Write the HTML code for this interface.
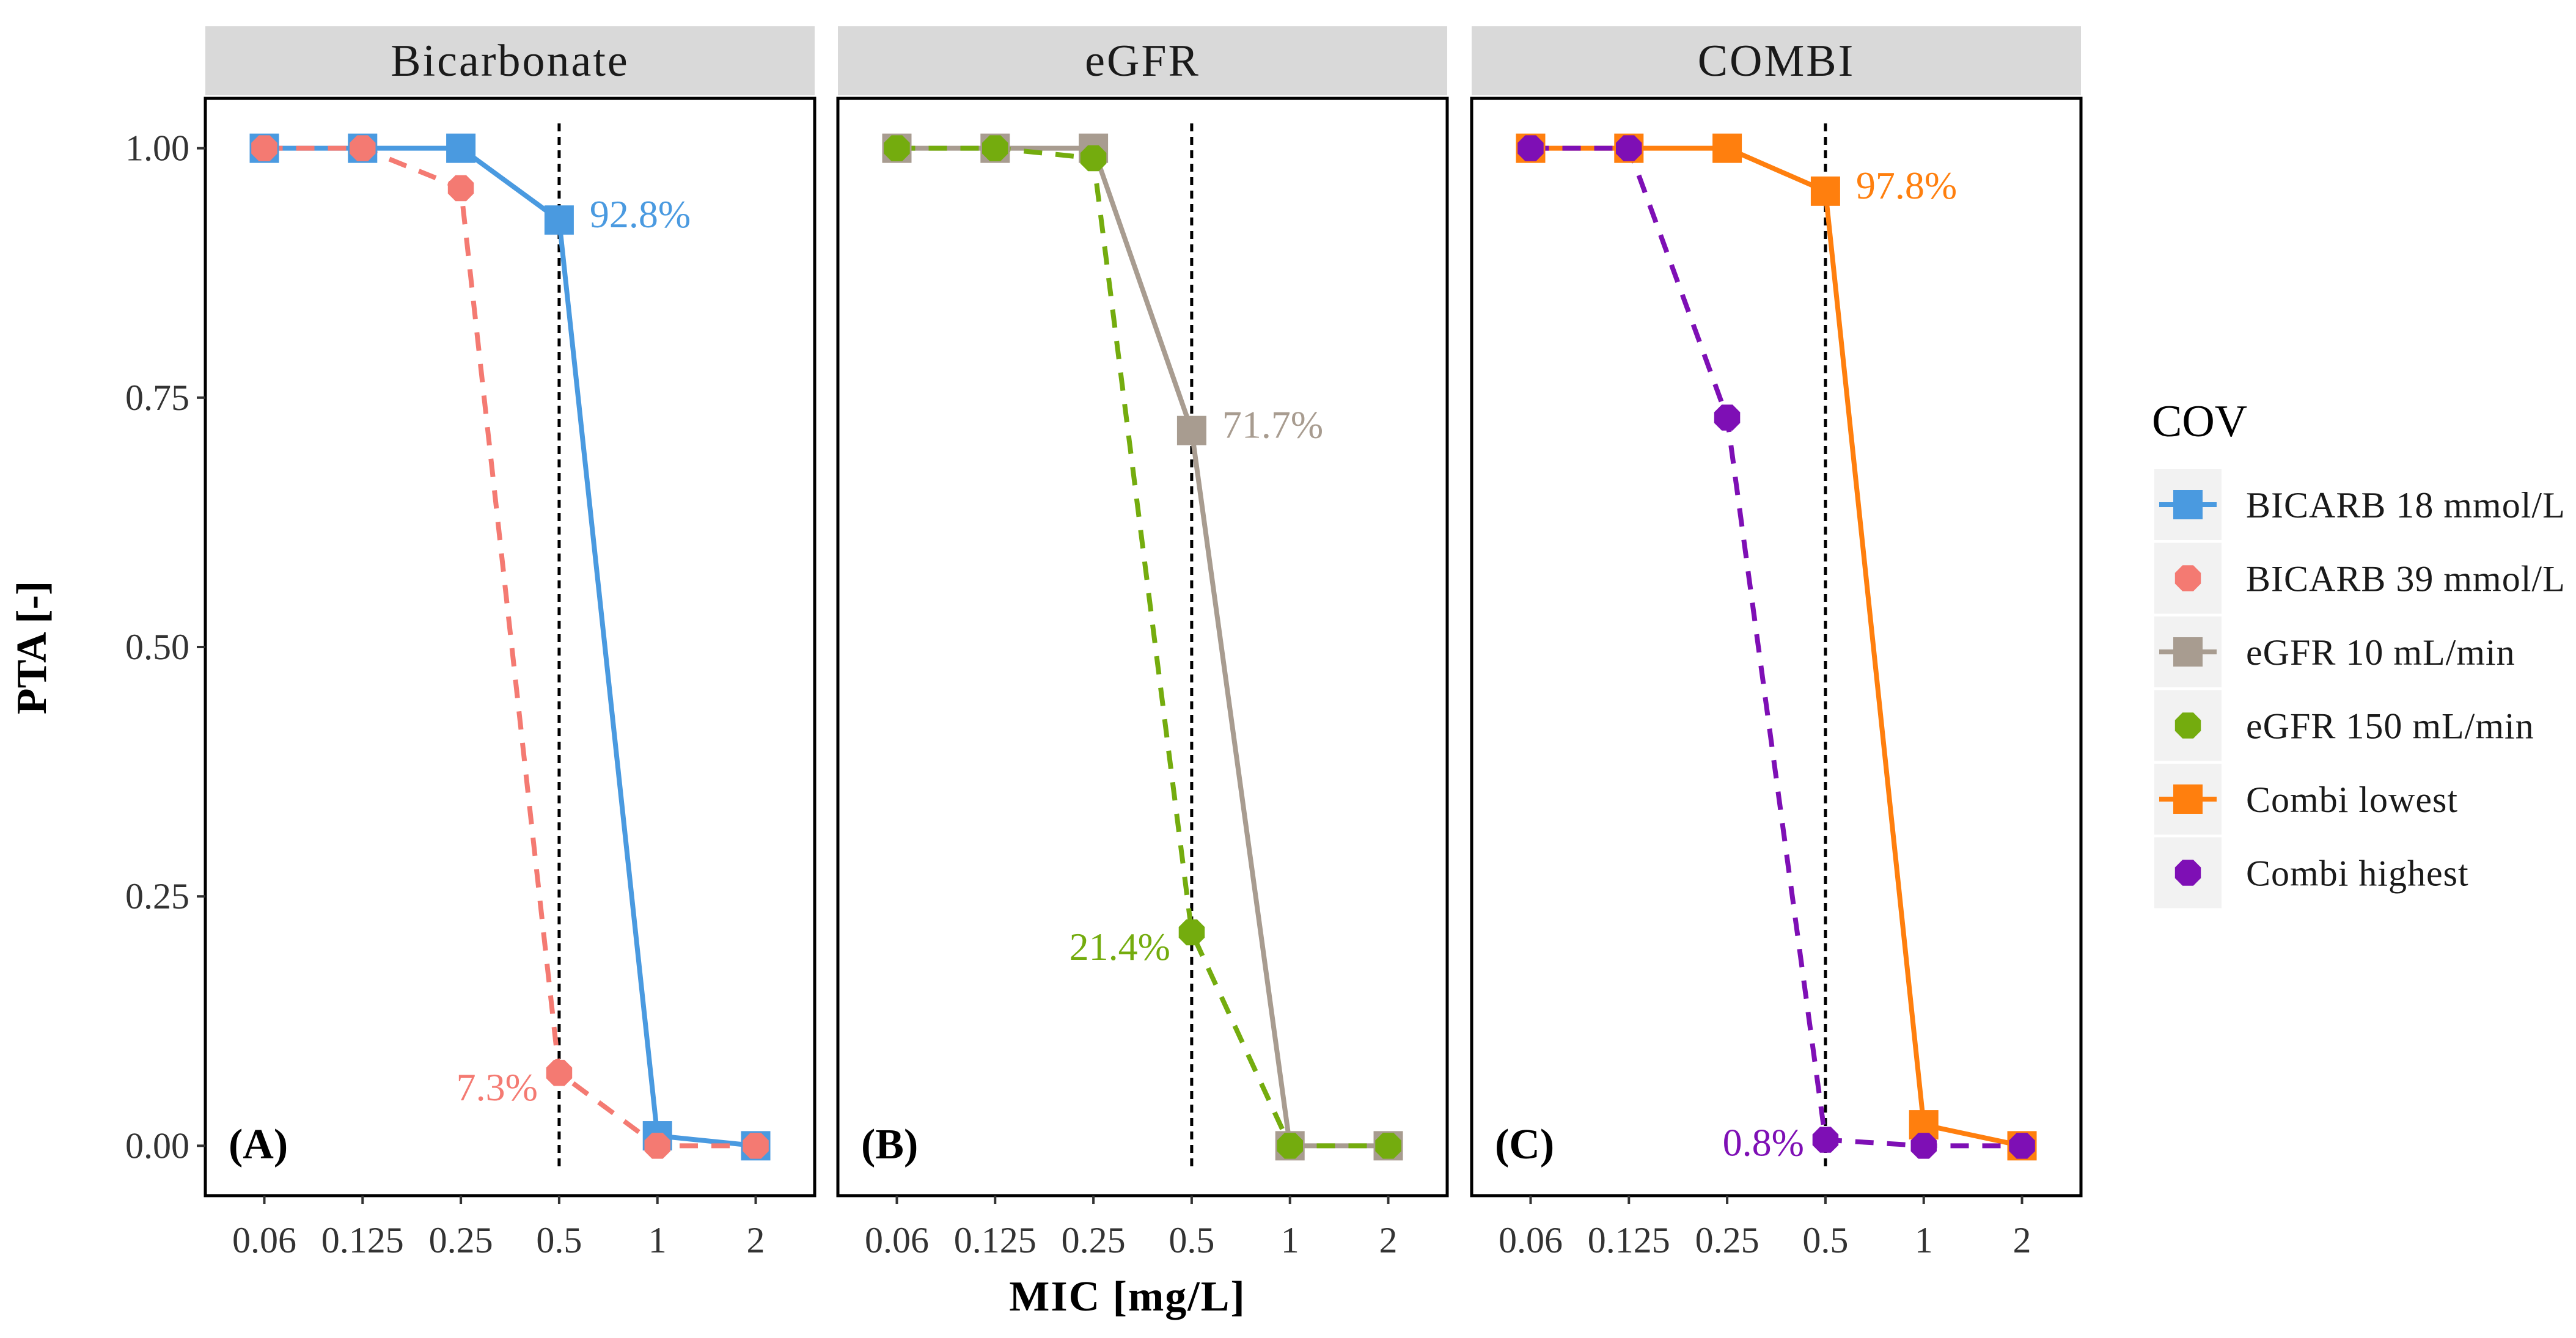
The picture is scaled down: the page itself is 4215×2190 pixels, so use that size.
<!DOCTYPE html>
<html><head><meta charset="utf-8"><style>
html,body{margin:0;padding:0;background:#fff}
svg{display:block;font-family:"Liberation Serif",serif}
</style></head><body>
<svg id="chart" width="4215" height="2190" viewBox="0 0 4215 2190" xmlns="http://www.w3.org/2000/svg">
<text x="75" y="1060" font-size="70" font-weight="bold" text-anchor="middle" transform="rotate(-90 75 1060)">PTA [-]</text>
<text x="1845" y="2145" font-size="70" font-weight="bold" text-anchor="middle" letter-spacing="2">MIC [mg/L]</text>
<g id="panels"></g>
<g id="legend"></g>
</svg>
<script>
const categories = ["0.06","0.125","0.25","0.5","1","2"];
const yTicks = [0, 0.25, 0.5, 0.75, 1];
const yTickLabels = ["0.00","0.25","0.50","0.75","1.00"];
const panelTitles = ["Bicarbonate","eGFR","COMBI"];
const panelTags = ["(A)","(B)","(C)"];
const bicarb18 = [1,1,1,0.928,0.01,0];
const bicarb39 = [1,1,0.96,0.073,0,0];
const egfr10 = [1,1,1,0.717,0,0];
const egfr150 = [1,1,0.99,0.214,0,0];
const combiLow = [1,1,1,0.957,0.021,0];
const combiHigh = [1,1,0.73,0.006,0,0];
const seriesNames = ["BICARB 18 mmol/L","BICARB 39 mmol/L","eGFR 10 mL/min","eGFR 150 mL/min","Combi lowest","Combi highest"];
const annotations = [["92.8%","7.3%"],["71.7%","21.4%"],["97.8%","0.8%"]];

const NS="http://www.w3.org/2000/svg";
function mk(tag,attrs,parent,text){const e=document.createElementNS(NS,tag);for(const k in attrs)e.setAttribute(k,attrs[k]);if(text!==undefined)e.textContent=text;parent.appendChild(e);return e;}
const svgEl=document.getElementById('chart');
const panelsG=document.getElementById('panels');
const panelX=[336,1371,2408], panelW=997, plotTop=161, plotBottom=1957;
function yS(v){return plotBottom-((v+0.05)/1.1)*(plotBottom-plotTop);}
function xS(p,i){return panelX[p]+(i+1-0.4)/6.2*panelW;}
const colors={b18:"#4a9ae0",b39:"#f47a72",e10:"#a89c90",e150:"#74ac0e",cl:"#ff7f0e",ch:"#7e0fb5"};
const panelSeries=[
 [{d:bicarb18,c:colors.b18,sq:true,dash:null,name:"bicarb-18"},{d:bicarb39,c:colors.b39,sq:false,dash:"30 22",name:"bicarb-39"}],
 [{d:egfr10,c:colors.e10,sq:true,dash:null,name:"egfr-10"},{d:egfr150,c:colors.e150,sq:false,dash:"30 22",name:"egfr-150"}],
 [{d:combiLow,c:colors.cl,sq:true,dash:null,name:"combi-lowest"},{d:combiHigh,c:colors.ch,sq:false,dash:"30 22",name:"combi-highest"}]
];
function marker(g,x,y,c,sq,sz){
  if(sq){const r=mk('rect',{x:x-sz/2,y:y-sz/2,width:sz,height:sz,fill:c},g);
    
    }
  else{const r=sz*0.5;const pts=[];for(let k=0;k<8;k++){const a=Math.PI/8+k*Math.PI/4;pts.push((x+r*Math.cos(a)).toFixed(1)+","+(y+r*Math.sin(a)).toFixed(1));}
    const p=mk('polygon',{points:pts.join(' '),fill:c},g);
    
    }
}
for(let p=0;p<3;p++){
  const g=mk('g',{},panelsG);
  
  
  const strip=mk('rect',{x:panelX[p],y:43,width:panelW,height:113,fill:"#d9d9d9"},g);
  
  
  const st=mk('text',{x:panelX[p]+panelW/2,y:124,'font-size':74,'letter-spacing':3,'text-anchor':'middle',fill:'#1a1a1a'},g,panelTitles[p]);
  
  
  const vx=xS(p,3);
  const vl=mk('line',{x1:vx,x2:vx,y1:202,y2:1914,stroke:'#000','stroke-width':5,'stroke-dasharray':'13 9'},g);
  
  
  panelSeries[p].forEach(s=>{
    const pts=s.d.map((v,i)=>xS(p,i).toFixed(1)+","+yS(v).toFixed(1)).join(' ');
    const pl=mk('polyline',{points:pts,fill:'none',stroke:s.c,'stroke-width':8,'stroke-linejoin':'round'},g);
    if(s.dash)pl.setAttribute('stroke-dasharray',s.dash);
    
    
  });
  panelSeries[p].forEach(s=>{s.d.forEach((v,i)=>marker(g,xS(p,i),yS(v),s.c,s.sq,s.sq?48:46));});
  const a1=panelSeries[p][0], a2=panelSeries[p][1];
  const t1=mk('text',{x:xS(p,3)+50,y:yS(a1.d[3])+12,'font-size':64,fill:a1.c},g,annotations[p][0]);
  
  
  const t2=mk('text',{x:xS(p,3)-35,y:yS(a2.d[3])+(p===2?26:45),'font-size':64,fill:a2.c,'text-anchor':'end'},g,annotations[p][1]);
  
  
  const tag=mk('text',{x:panelX[p]+38,y:1896,'font-size':70,'font-weight':'bold'},g,panelTags[p]);
  
  
  const fr=mk('rect',{x:panelX[p],y:plotTop,width:panelW,height:plotBottom-plotTop,fill:'none',stroke:'#000','stroke-width':5},g);
  
  
  categories.forEach((c,i)=>{
    const x=xS(p,i);
    const tk=mk('line',{x1:x,x2:x,y1:plotBottom,y2:plotBottom+14,stroke:'#333','stroke-width':4},g);
    
    
    const tl=mk('text',{x:x,y:2050,'font-size':60,'text-anchor':'middle',fill:'#333'},g,c);
    
    
  });
}
yTicks.forEach((v,i)=>{
  const y=yS(v);
  const tk=mk('line',{x1:322,x2:336,y1:y,y2:y,stroke:'#333','stroke-width':4},svgEl);
  
  
  const tl=mk('text',{x:310,y:y+20,'font-size':60,'text-anchor':'end',fill:'#333'},svgEl,yTickLabels[i]);
  
  
});
const lg=document.getElementById('legend');
const lt=mk('text',{x:3521,y:714,'font-size':74},lg,"COV");


const legStyles=[[colors.b18,true],[colors.b39,false],[colors.e10,true],[colors.e150,false],[colors.cl,true],[colors.ch,false]];
seriesNames.forEach((n,i)=>{
  const cy=826+i*120.5;
  const eg=mk('g',{},lg);
  
  
  mk('rect',{x:3525,y:cy-58,width:110,height:116,fill:'#f2f2f2'},eg);
  if(legStyles[i][1]) mk('line',{x1:3533,x2:3627,y1:cy,y2:cy,stroke:legStyles[i][0],'stroke-width':8},eg);
  marker(eg,3580,cy,legStyles[i][0],legStyles[i][1],legStyles[i][1]?48:46);
  mk('text',{x:3675,y:cy+21,'font-size':60,'letter-spacing':1,fill:'#1a1a1a'},eg,n);
});
</script>
</body></html>
